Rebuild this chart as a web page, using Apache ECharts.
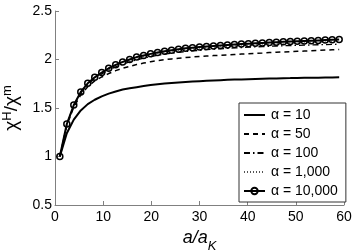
<!DOCTYPE html>
<html>
<head>
<meta charset="utf-8">
<script src="https://cdn.jsdelivr.net/npm/echarts@6/dist/echarts.min.js"></script>
<style>html,body{margin:0;padding:0;background:#fff;}#c{width:355px;height:251px;}</style>
</head>
<body>
<div id="c"></div>
<script>
const xValues = [1, 2.45, 3.9, 5.35, 6.8, 8.25, 9.7, 11.15, 12.6, 14.05, 15.5, 16.95, 18.4, 19.85, 21.3, 22.75, 24.2, 25.65, 27.1, 28.55, 30, 31.45, 32.9, 34.35, 35.8, 37.25, 38.7, 40.15, 41.6, 43.05, 44.5, 45.95, 47.4, 48.85, 50.3, 51.75, 53.2, 54.65, 56.1, 57.55, 59];
const alpha10 = [1.0, 1.24, 1.38, 1.475, 1.54, 1.585, 1.62, 1.648, 1.67, 1.69, 1.703, 1.715, 1.726, 1.737, 1.745, 1.752, 1.758, 1.764, 1.769, 1.773, 1.777, 1.781, 1.784, 1.787, 1.79, 1.793, 1.795, 1.797, 1.799, 1.801, 1.803, 1.805, 1.807, 1.808, 1.81, 1.811, 1.812, 1.813, 1.814, 1.815, 1.816];
const alpha50 = [1.0, 1.32, 1.51, 1.635, 1.72, 1.78, 1.82, 1.855, 1.885, 1.91, 1.93, 1.948, 1.963, 1.977, 1.988, 1.998, 2.006, 2.013, 2.02, 2.026, 2.031, 2.036, 2.04, 2.044, 2.048, 2.052, 2.056, 2.06, 2.064, 2.067, 2.071, 2.074, 2.078, 2.081, 2.084, 2.087, 2.09, 2.094, 2.097, 2.1, 2.103];
const alpha100 = [1.0, 1.33, 1.525, 1.655, 1.745, 1.805, 1.852, 1.892, 1.925, 1.953, 1.976, 1.997, 2.014, 2.03, 2.043, 2.055, 2.065, 2.074, 2.082, 2.089, 2.095, 2.101, 2.106, 2.11, 2.115, 2.119, 2.123, 2.127, 2.13, 2.133, 2.136, 2.139, 2.142, 2.144, 2.146, 2.148, 2.15, 2.152, 2.154, 2.156, 2.158];
const alpha1000 = [1.0, 1.335, 1.53, 1.663, 1.752, 1.812, 1.861, 1.904, 1.938, 1.967, 1.991, 2.015, 2.032, 2.047, 2.061, 2.073, 2.084, 2.093, 2.102, 2.109, 2.115, 2.121, 2.126, 2.131, 2.136, 2.14, 2.144, 2.148, 2.152, 2.156, 2.159, 2.163, 2.166, 2.169, 2.172, 2.175, 2.178, 2.18, 2.183, 2.185, 2.188];
const alpha10000 = [1.0, 1.335, 1.53, 1.665, 1.755, 1.816, 1.866, 1.91, 1.945, 1.975, 2.0, 2.025, 2.042, 2.058, 2.072, 2.085, 2.096, 2.106, 2.115, 2.122, 2.128, 2.134, 2.14, 2.145, 2.15, 2.155, 2.159, 2.163, 2.167, 2.171, 2.175, 2.179, 2.182, 2.185, 2.188, 2.191, 2.194, 2.197, 2.2, 2.203, 2.205];
const seriesNames = ['α = 10', 'α = 50', 'α = 100', 'α = 1,000', 'α = 10,000'];

const pairs = arr => xValues.map((x, i) => [x, arr[i]]);
const FONT = '"Liberation Sans", Arial, Helvetica, sans-serif';
const hiddenSymbol = {color: 'rgba(0,0,0,0)', borderWidth: 0, opacity: 0};

const chart = echarts.init(document.getElementById('c'), null, {renderer: 'canvas'});
chart.setOption({
  animation: false,
  backgroundColor: '#fff',
  textStyle: {fontFamily: FONT},
  grid: {left: 55, right: 11, top: 11, bottom: 46, containLabel: false, outerBoundsMode: 'none'},
  xAxis: {
    type: 'value', min: 0, max: 60, interval: 10,
    axisLine: {show: true, lineStyle: {color: '#808080', width: 1}},
    axisTick: {show: true, inside: true, length: 4, lineStyle: {color: '#808080'}},
    axisLabel: {color: '#000', fontSize: 14, fontFamily: FONT, margin: 5},
    splitLine: {show: false},
    name: '{a|a/a}{s|K}',
    nameLocation: 'middle',
    nameGap: 21,
    nameTextStyle: {
      rich: {
        a: {fontSize: 18, fontStyle: 'italic', fontFamily: FONT, color: '#000', verticalAlign: 'bottom', lineHeight: 20},
        s: {fontSize: 13, fontStyle: 'italic', fontFamily: FONT, color: '#000', verticalAlign: 'bottom', padding: [0, 0, -6, 0], lineHeight: 20}
      }
    }
  },
  yAxis: {
    type: 'value', min: 0.5, max: 2.5, interval: 0.5,
    axisLine: {show: true, lineStyle: {color: '#808080', width: 1}},
    axisTick: {show: true, inside: true, length: 4, lineStyle: {color: '#808080'}},
    axisLabel: {color: '#000', fontSize: 14, fontFamily: FONT, margin: 3},
    splitLine: {show: false},
    name: '{c|χ}{p|H}{c|/χ}{p|m}',
    nameLocation: 'middle',
    nameGap: 27,
    nameRotate: 90,
    nameTextStyle: {
      rich: {
        c: {fontSize: 19, fontFamily: FONT, color: '#000', verticalAlign: 'bottom', lineHeight: 22},
        p: {fontSize: 13, fontFamily: FONT, color: '#000', verticalAlign: 'bottom', padding: [0, 0, 8, 0], lineHeight: 22}
      }
    }
  },
  legend: {
    orient: 'vertical',
    left: 239, top: 103,
    padding: [5, 8, 4, 4],
    itemGap: 5,
    itemWidth: 21,
    itemHeight: 8,
    backgroundColor: '#fff',
    borderColor: '#333',
    borderWidth: 1,
    borderRadius: 0,
    textStyle: {fontSize: 14, lineHeight: 14, color: '#000', fontFamily: FONT, padding: [0, 0, 0, 1]},
    data: [
      {name: seriesNames[0], itemStyle: hiddenSymbol},
      {name: seriesNames[1], itemStyle: hiddenSymbol},
      {name: seriesNames[2], itemStyle: hiddenSymbol},
      {name: seriesNames[3], itemStyle: hiddenSymbol},
      {name: seriesNames[4]}
    ]
  },
  series: [
    {name: seriesNames[0], type: 'line', data: pairs(alpha10), symbol: 'none',
     lineStyle: {color: '#000', width: 2, type: 'solid'}, itemStyle: {color: '#000'}, z: 2},
    {name: seriesNames[1], type: 'line', data: pairs(alpha50), symbol: 'none',
     lineStyle: {color: '#000', width: 1.5, type: [5, 4]}, itemStyle: {color: '#000'}, z: 2},
    {name: seriesNames[2], type: 'line', data: pairs(alpha100), symbol: 'none',
     lineStyle: {color: '#000', width: 1.3, type: [6, 3, 1.5, 3]}, itemStyle: {color: '#000'}, z: 2},
    {name: seriesNames[3], type: 'line', data: pairs(alpha1000), symbol: 'none',
     lineStyle: {color: '#555', width: 1, type: [1, 2]}, itemStyle: {color: '#555'}, z: 2},
    {name: seriesNames[4], type: 'line', data: pairs(alpha10000), symbol: 'circle', symbolSize: 6, showSymbol: true,
     lineStyle: {color: '#000', width: 2, type: 'solid'},
     itemStyle: {color: 'rgba(255,255,255,0)', borderColor: '#000', borderWidth: 1.5}, z: 3}
  ]
});
</script>
</body>
</html>
